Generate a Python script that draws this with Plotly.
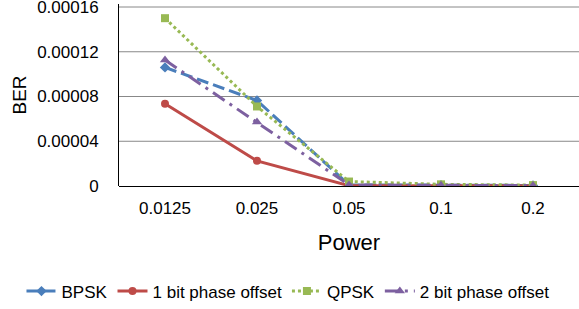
import plotly.graph_objects as go

power = ["0.0125", "0.025", "0.05", "0.1", "0.2"]
bpsk = [0.000106, 0.0000764, 0.000001, 0.0000008, 0.0000005]
one_bit = [0.0000735, 0.0000225, 0.0000003, 0.0000002, 0.0000001]
qpsk = [0.000150, 0.0000711, 0.000004, 0.0000015, 0.0000008]
two_bit = [0.0001126, 0.0000572, 0.000001, 0.0000006, 0.0000004]
y_ticks = [0, 0.00004, 0.00008, 0.00012, 0.00016]
y_tick_text = ["0", "0.00004", "0.00008", "0.00012", "0.00016"]

FONT = "Liberation Sans"

fig = go.Figure()
fig.add_trace(go.Scatter(x=power, y=bpsk, name="BPSK", mode="lines+markers",
                         line=dict(color="#4A7EBB", width=3, dash="12px,5px"),
                         marker=dict(symbol="diamond", size=8, color="#4A7EBB")))
fig.add_trace(go.Scatter(x=power, y=one_bit, name="1 bit phase offset", mode="lines+markers",
                         line=dict(color="#BE4B48", width=3),
                         marker=dict(symbol="circle", size=8, color="#BE4B48")))
fig.add_trace(go.Scatter(x=power, y=qpsk, name="QPSK", mode="lines+markers",
                         line=dict(color="#98B954", width=3, dash="dot"),
                         marker=dict(symbol="square", size=8, color="#98B954")))
fig.add_trace(go.Scatter(x=power, y=two_bit, name="2 bit phase offset", mode="lines+markers",
                         line=dict(color="#7D60A0", width=3, dash="14px,6px,3px,6px"),
                         marker=dict(symbol="triangle-up", size=9, color="#7D60A0")))

# horizontal gridlines at each y tick (drawn beneath the data)
for v in y_ticks[1:]:
    fig.add_shape(type="line", xref="paper", yref="y", x0=0, x1=1, y0=v, y1=v,
                  line=dict(color="#888888", width=1), layer="below")

fig.update_layout(
    width=579, height=309,
    margin=dict(l=119, r=0, t=4, b=123, autoexpand=False),
    paper_bgcolor="white", plot_bgcolor="white",
    font=dict(family=FONT, size=17, color="#000000"),
    legend=dict(orientation="h", x=-0.212, xanchor="left",
                y=-0.58, yanchor="middle", font=dict(size=17),
                tracegroupgap=0, bgcolor="rgba(0,0,0,0)", itemwidth=30),
    xaxis=dict(type="category", range=[-0.5, 4.5], showgrid=False, showline=False, ticks="",
               ticklabelstandoff=10, zeroline=False,
               title=dict(text="Power", font=dict(size=22), standoff=17)),
    yaxis=dict(range=[0, 0.00016 * 182 / 179], tickvals=y_ticks, ticktext=y_tick_text,
               showgrid=False,
               showline=True, linecolor="#000000", linewidth=1,
               zeroline=True, zerolinecolor="#000000", zerolinewidth=1,
               ticks="", ticklabelstandoff=16, ticklabeloverflow="allow",
               title=dict(text="BER", font=dict(size=19), standoff=5)),
)

fig.write_html("out.html", config={"displayModeBar": False},
               post_script="document.body.style.margin='0px';")
